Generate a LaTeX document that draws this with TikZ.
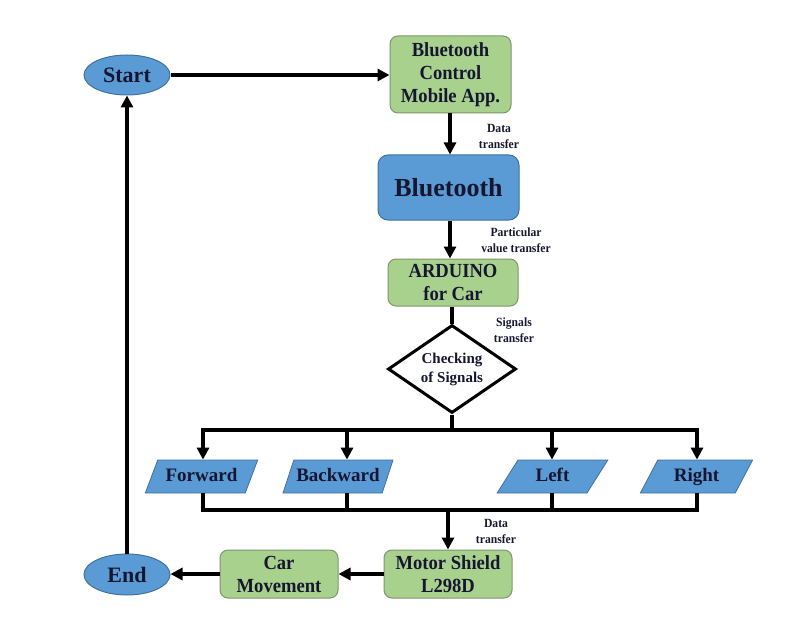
\documentclass[tikz,border=0pt]{standalone}
\usepackage{fontspec}
\setmainfont{Liberation Serif}
\newfontfamily\condfont{Liberation Serif}[FakeStretch=0.93]
\usetikzlibrary{shapes.geometric,arrows.meta,calc}
\definecolor{bfill}{RGB}{91,155,213}
\definecolor{bdraw}{RGB}{65,113,156}
\definecolor{gfill}{RGB}{169,209,142}
\definecolor{gdraw}{RGB}{125,150,105}
\definecolor{txt}{RGB}{22,22,48}
\begin{document}
\begin{tikzpicture}[x=1pt,y=-1pt,
  gbox/.style={rectangle, rounded corners=8pt, draw=gdraw, fill=gfill, line width=1pt,
    align=center, inner sep=0pt, text=txt, font=\condfont\fontsize{20}{23}\selectfont\bfseries},
  bbox/.style={rectangle, rounded corners=10pt, draw=bdraw, fill=bfill, line width=1pt,
    align=center, inner sep=0pt, text=txt, font=\fontsize{26}{30}\selectfont\bfseries},
  oval/.style={ellipse, draw=bdraw, fill=bfill, line width=1pt, inner sep=0pt,
    text=txt, font=\fontsize{22}{26}\selectfont\bfseries},
  para/.style={trapezium, trapezium left angle=59, trapezium right angle=121,
    trapezium stretches=true, draw=bdraw, fill=bfill, line width=0.8pt, inner sep=0pt,
    text height=13pt, text depth=4pt,
    text=txt, font=\fontsize{19}{22}\selectfont\bfseries},
  decision/.style={diamond, draw=black, fill=white, line width=3pt, inner sep=0pt, aspect=1.45,
    align=center, text=txt, font=\fontsize{15}{19}\selectfont\bfseries},
  lbl/.style={align=center, text=txt, font=\condfont\fontsize{12.5}{16}\selectfont\bfseries},
  conn/.style={line width=3.5pt, draw=black},
  arr/.style={conn, -{Triangle[length=12pt,width=12pt]}}
]
\useasboundingbox (0,0) rectangle (792,631);

\node[oval, minimum width=86, minimum height=40] (start) at (127,75) {Start};
\node[gbox, minimum width=121, minimum height=77] (app) at (450.5,74.5) {Bluetooth\\Control\\Mobile App.};
\node[bbox, minimum width=141, minimum height=65] (bt) at (448.5,187.5) {Bluetooth};
\node[gbox, minimum width=130, minimum height=47] (ard) at (453,282.5) {ARDUINO\\for Car};
\node[decision, minimum width=128, minimum height=88] (chk) at (452,369) {Checking\\of Signals};

\node[para, minimum width=113, minimum height=33] (fw) at (201.5,476.5) {Forward};
\node[para, minimum width=110, minimum height=33] (bw) at (338,476.5) {Backward};
\node[para, minimum width=111, minimum height=33] (lf) at (552.5,476.5) {Left};
\node[para, minimum width=113, minimum height=33] (rt) at (696.5,476.5) {Right};

\node[gbox, minimum width=128, minimum height=48] (mot) at (448,574) {Motor Shield\\L298D};
\node[gbox, minimum width=118, minimum height=48] (car) at (279,574) {Car\\Movement};
\node[oval, minimum width=86, minimum height=41] (end) at (127,574.5) {End};

% labels
\node[lbl] (l1) at (499,136) {Data\\transfer};
\node[lbl] (l2) at (516,240) {Particular\\value transfer};
\node[lbl] (l3) at (514,330) {Signals\\transfer};
\node[lbl] (l4) at (496,531) {Data\\transfer};

% bus coordinates
\coordinate (tsplit) at (452,430);
\coordinate (t1) at (203,430);
\coordinate (t2) at (347,430);
\coordinate (t3) at (552,430);
\coordinate (t4) at (697,430);
\coordinate (b1) at (203,510);
\coordinate (b2) at (347,510);
\coordinate (b3) at (552,510);
\coordinate (b4) at (697,510);
\coordinate (bjoin) at (448,510);

% connectors
\draw[arr] (start.east) -- (app.west |- start.east);
\draw[arr] (app.south -| 450,0) -- (bt.north -| 450,0);
\draw[arr] (bt.south -| 450,0) -- (ard.north -| 450,0);
\draw[conn] (ard.south -| chk.north) -- (chk.north);
\draw[conn] (chk.south) -- (tsplit);
\draw[conn, line cap=rect] (t1) -- (t4);
\draw[arr] (t1) -- (t1 |- fw.north);
\draw[arr] (t2) -- (t2 |- bw.north);
\draw[arr] (t3) -- (t3 |- lf.north);
\draw[arr] (t4) -- (t4 |- rt.north);
\draw[conn] (b1 |- fw.south) -- (b1);
\draw[conn] (b2 |- bw.south) -- (b2);
\draw[conn] (b3 |- lf.south) -- (b3);
\draw[conn] (b4 |- rt.south) -- (b4);
\draw[conn, line cap=rect] (b1) -- (b4);
\draw[arr] (bjoin) -- (mot.north);
\draw[arr] (mot.west) -- (car.east);
\draw[arr] (car.west) -- (car.west -| end.east);
\draw[arr] (end.north) -- (start.south);
\end{tikzpicture}
\end{document}
